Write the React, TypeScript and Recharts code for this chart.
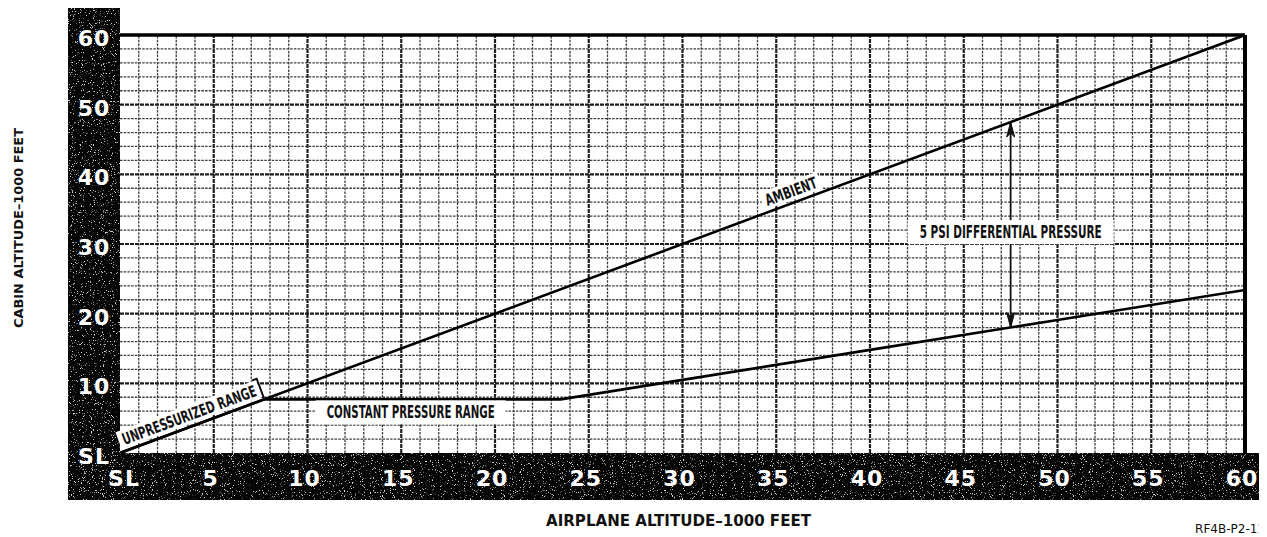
import React from "react";
import { ComposedChart, Line, XAxis, YAxis, ReferenceLine, ReferenceDot } from "recharts";

// airplane altitude (x) vs cabin altitude (y), thousands of feet
const xTicks = [0, 5, 10, 15, 20, 25, 30, 35, 40, 45, 50, 55, 60];
const yTicks = [0, 10, 20, 30, 40, 50, 60];
const xGrid = [
  1, 2, 3, 4, 5, 6, 7, 8, 9, 10, 11, 12, 13, 14, 15, 16, 17, 18, 19, 20,
  21, 22, 23, 24, 25, 26, 27, 28, 29, 30, 31, 32, 33, 34, 35, 36, 37, 38, 39, 40,
  41, 42, 43, 44, 45, 46, 47, 48, 49, 50, 51, 52, 53, 54, 55, 56, 57, 58, 59,
];
const yGrid = [
  2, 4, 6, 8, 10, 12, 14, 16, 18, 20, 22, 24, 26, 28, 30,
  32, 34, 36, 38, 40, 42, 44, 46, 48, 50, 52, 54, 56, 58,
];

const ambientAlt = [0, 60];
const ambientCabin = [0, 60];
const scheduleAlt = [0, 7.7, 23.5, 30, 40, 50, 60];
const scheduleCabin = [0, 7.7, 7.7, 10.5, 14.8, 19.1, 23.4];

// 5 psi differential arrow
const diffAlt = 47.5;
const diffLow = 18.0;
const diffHigh = 47.5;

const ambientData = ambientAlt.map((x, i) => ({ x, y: ambientCabin[i] }));
const scheduleData = scheduleAlt.map((x, i) => ({ x, y: scheduleCabin[i] }));

const W = 1259;
const H = 529;
const M = { top: 27, right: 22, left: 0, bottom: 0 };
const Y_W = 112;
const X_H = 84;
const PLOT_L = M.left + Y_W;
const PLOT_R = W - M.right;
const PLOT_T = M.top;
const PLOT_B = H - X_H;
const ANGLE = (Math.atan2((PLOT_B - PLOT_T) / 60, (PLOT_R - PLOT_L) / 60) * 180) / Math.PI;

const tickFont = "'DejaVu Sans', Verdana, sans-serif";
const noteFont = "'DejaVu Sans Condensed', 'Liberation Sans Narrow', 'DejaVu Sans', sans-serif";

const fmt = (v: number) => (v === 0 ? "SL" : String(v));

const YTick = (p: any) => (
  <text x={86} y={p.y + 3} dy="0.36em" textAnchor="middle" fill="#fff" fontFamily={tickFont}
    fontWeight="bold" fontSize={22} letterSpacing={1}>
    {fmt(p.payload.value)}
  </text>
);

const XTick = (p: any) => (
  <text x={p.x + (p.payload.value === 0 ? 4 : -3)} y={PLOT_B + 25} dy="0.36em" textAnchor="middle" fill="#fff"
    fontFamily={tickFont} fontWeight="bold" fontSize={22} letterSpacing={1}>
    {fmt(p.payload.value)}
  </text>
);

const gridStyle = (major: boolean) =>
  major
    ? { stroke: "#1e1e1e", strokeWidth: 2.2, strokeDasharray: "4 1" }
    : { stroke: "#3c3c3c", strokeWidth: 1.3, strokeDasharray: "2.5 1.2" };

const rotatedNote = (text: string, len: number, boxW: number, bracket?: number) => (p: any) => (
  <g transform={`translate(${p.cx},${p.cy}) rotate(${-ANGLE})`}>
    <rect x={-boxW / 2} y={-21} width={boxW} height={18} fill="#fff" />
    <text x={0} y={-6} textAnchor="middle" textLength={len} lengthAdjust="spacingAndGlyphs"
      fontFamily={noteFont} fontWeight="bold" fontSize={16} fill="#111">
      {text}
    </text>
    {bracket !== undefined && (
      <path d={`M ${bracket} 0 L ${bracket} -22 L ${bracket - 5} -22`} stroke="#111" strokeWidth={2} fill="none" />
    )}
  </g>
);

const boxNote = (text: string, len: number, boxW: number, dy: number) => (p: any) => (
  <g>
    <rect x={p.cx - boxW / 2} y={p.cy + dy - 12} width={boxW} height={24} fill="#fff" />
    <text x={p.cx} y={p.cy + dy} dy="0.36em" textAnchor="middle" textLength={len} lengthAdjust="spacingAndGlyphs"
      fontFamily={noteFont} fontWeight="bold" fontSize={17} fill="#111">
      {text}
    </text>
  </g>
);

const arrowHead = (up: boolean) => (p: any) => {
  const s = up ? 1 : -1;
  return (
    <path d={`M ${p.cx} ${p.cy} L ${p.cx - 4} ${p.cy + s * 15} L ${p.cx} ${p.cy + s * 11} L ${p.cx + 4} ${p.cy + s * 15} Z`}
      fill="#111" stroke="#111" strokeWidth={1} />
  );
};

export default function App() {
  return (
    <div style={{ position: "relative", width: W, height: H }}>
      <svg width={W} height={H} style={{ position: "absolute", left: 0, top: 0 }}>
        <defs>
          <filter id="speckle" x="0" y="0" width="100%" height="100%">
            <feTurbulence type="fractalNoise" baseFrequency="0.9" numOctaves={2} seed={7} result="n" />
            <feColorMatrix in="n" type="matrix"
              values="0 0 0 0 0.65  0 0 0 0 0.65  0 0 0 0 0.65  10 0 0 0 -6.3" />
          </filter>
        </defs>
        <rect x={60} y={0} width={PLOT_L - 60} height={492} fill="#050505" />
        <rect x={60} y={PLOT_B} width={W - 60} height={492 - PLOT_B} fill="#050505" />
        <rect x={60} y={0} width={PLOT_L - 60} height={492} fill="#fff" filter="url(#speckle)" />
        <rect x={60} y={PLOT_B} width={W - 60} height={492 - PLOT_B} fill="#fff" filter="url(#speckle)" />
        <text transform={`translate(10, 220) rotate(-90)`} textAnchor="middle" dy="0.36em" textLength={200}
          lengthAdjust="spacingAndGlyphs" fontFamily={tickFont} fontWeight="bold" fontSize={13} fill="#111">
          CABIN ALTITUDE–1000 FEET
        </text>
        <text x={(PLOT_L + PLOT_R) / 2 - 4} y={513} dy="0.36em" textAnchor="middle" textLength={265}
          lengthAdjust="spacingAndGlyphs" fontFamily={tickFont} fontWeight="bold" fontSize={15} fill="#111">
          AIRPLANE ALTITUDE–1000 FEET
        </text>
        <text x={W - 2} y={525} textAnchor="end" fontFamily={tickFont} fontSize={12} fill="#111">RF4B-P2-11</text>
      </svg>
      <div style={{ position: "absolute", left: 0, top: 0 }}>
        <ComposedChart width={W} height={H} margin={M}>
          <XAxis type="number" dataKey="x" domain={[0, 60]} ticks={xTicks} interval={0} height={X_H}
            axisLine={false} tickLine={false} tick={XTick} allowDataOverflow />
          <YAxis type="number" dataKey="y" domain={[0, 60]} ticks={yTicks} interval={0} width={Y_W}
            axisLine={false} tickLine={false} tick={YTick} allowDataOverflow />
          {xGrid.map((v) => (
            <ReferenceLine key={`gx${v}`} x={v} {...gridStyle(v % 5 === 0)} />
          ))}
          {yGrid.map((v) => (
            <ReferenceLine key={`gy${v}`} y={v} {...gridStyle(v % 10 === 0)} />
          ))}
          <ReferenceLine segment={[{ x: diffAlt, y: diffLow }, { x: diffAlt, y: diffHigh }]} stroke="#111" strokeWidth={1.8} />
          <ReferenceDot x={diffAlt} y={diffHigh} r={1} shape={arrowHead(true)} />
          <ReferenceDot x={diffAlt} y={diffLow} r={1} shape={arrowHead(false)} />
          <ReferenceDot x={36} y={36} r={1} shape={rotatedNote("AMBIENT", 54, 62)} />
          <ReferenceDot x={3.9} y={3.9} r={1} shape={rotatedNote("UNPRESSURIZED RANGE", 142, 150, 76)} />
          <ReferenceDot x={15.5} y={7.7} r={1} shape={boxNote("CONSTANT PRESSURE RANGE", 168, 190, 13)} />
          <ReferenceDot x={diffAlt} y={31.7} r={1} shape={boxNote("5 PSI DIFFERENTIAL PRESSURE", 182, 206, 0)} />
          <Line data={ambientData} dataKey="y" type="linear" stroke="#000" strokeWidth={2.6} dot={false}
            isAnimationActive={false} />
          <Line data={scheduleData} dataKey="y" type="linear" stroke="#000" strokeWidth={2.6} dot={false}
            isAnimationActive={false} />
          <ReferenceLine y={60} stroke="#000" strokeWidth={3.5} />
          <ReferenceLine x={60} stroke="#000" strokeWidth={4} />
        </ComposedChart>
      </div>
    </div>
  );
}
